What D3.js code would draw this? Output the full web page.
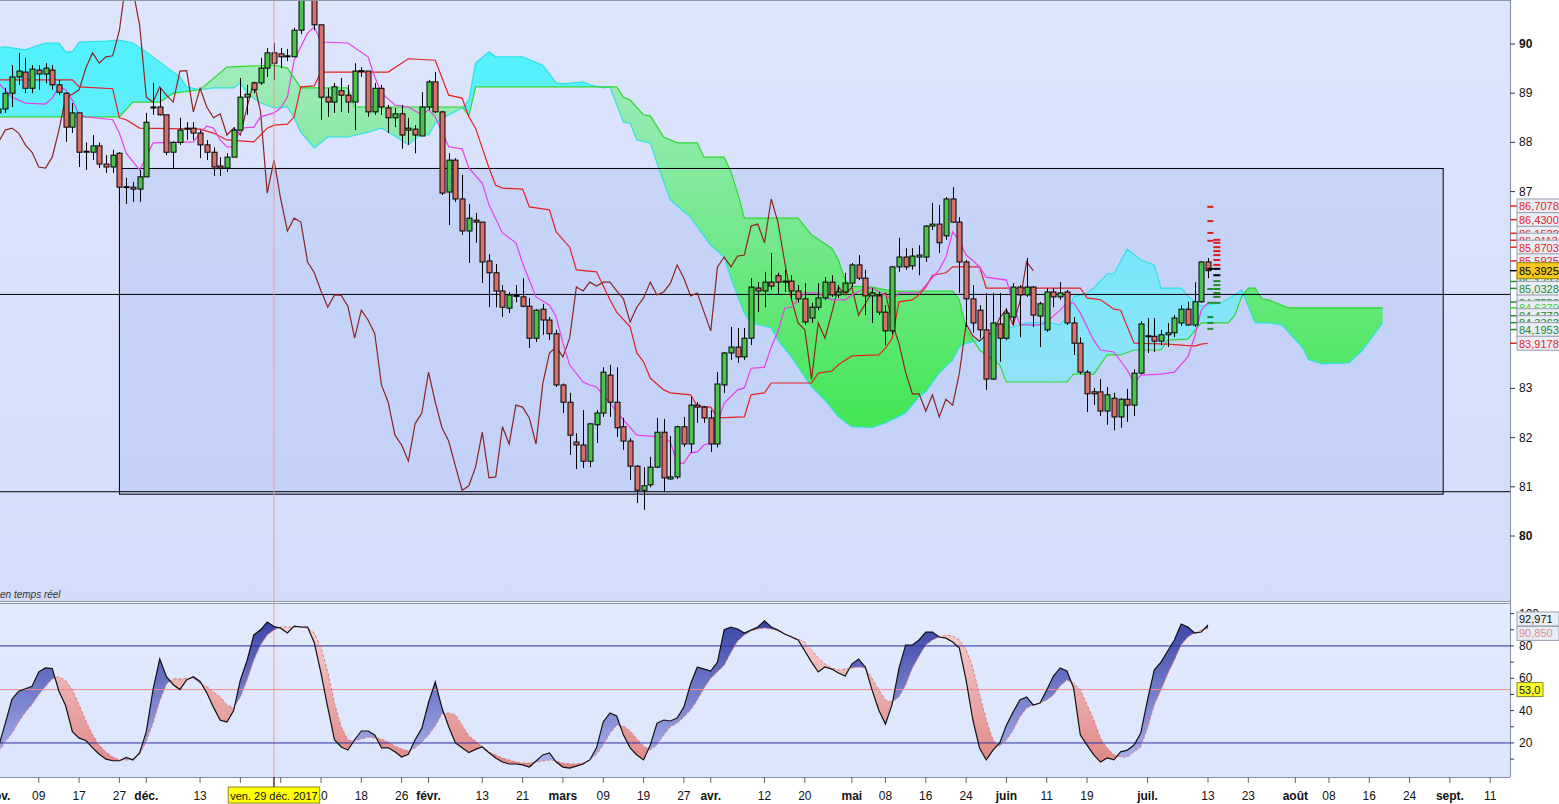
<!DOCTYPE html>
<html><head><meta charset="utf-8">
<script src="https://cdn.jsdelivr.net/npm/d3@7"></script>
<style>
html,body{margin:0;padding:0;background:#fff;overflow:hidden;}
svg{display:block;font-family:"Liberation Sans",Arial,sans-serif;}
</style></head><body>
<svg id="c" width="1559" height="804"></svg>
<script>
// ---------------- DATA ----------------
const firstDate = "2017-11-01";          // first candle (period -1)
const holidays = ["2017-12-25","2018-01-01"];
// OHLC, one entry per trading day from 2017-11-01 to 2018-07-13
const opens = [88.60,88.68,89.00,89.33,89.43,89.10,89.47,89.39,89.47,89.17,89.00,88.31,88.60,87.80,87.80,87.93,87.56,87.50,87.78,87.09,87.09,87.05,87.30,88.70,88.72,88.56,87.80,88.00,88.27,88.29,88.19,87.95,87.80,87.52,87.48,87.70,88.25,88.92,89.21,89.21,89.51,89.82,89.80,89.74,89.74,90.28,91.30,91.10,90.39,88.92,88.82,89.05,88.96,88.82,89.45,89.45,88.62,89.10,88.70,88.50,88.58,88.25,88.27,88.13,88.72,89.23,88.62,86.99,87.64,86.85,86.20,86.42,86.38,85.59,85.35,84.98,84.63,84.88,84.86,84.67,84.02,84.61,84.39,84.11,83.07,82.72,81.91,81.85,81.52,82.26,82.50,83.27,82.72,82.22,81.93,81.42,80.93,81.04,81.40,82.11,81.16,81.20,82.22,81.87,82.66,82.62,82.40,81.87,83.07,83.72,83.84,83.64,84.02,85.04,84.98,85.16,85.29,85.18,85.18,84.98,84.82,84.43,84.65,84.84,85.16,84.90,84.96,85.14,85.51,85.24,84.88,84.88,84.55,84.17,85.47,85.67,85.49,85.67,85.67,86.30,86.34,86.10,86.85,86.38,85.57,84.82,84.59,84.19,83.19,84.31,84.02,84.45,85.06,84.90,85.06,84.47,84.19,84.96,84.86,84.96,84.33,83.92,83.33,82.93,82.93,82.54,82.80,82.42,82.78,82.66,83.31,84.06,84.06,83.96,84.09,84.13,84.33,84.61,84.29,84.76,85.57];
const highs = [89.10,89.11,89.57,89.82,89.72,89.57,89.57,89.61,89.57,89.27,89.02,88.80,88.60,88.00,88.15,88.00,87.74,87.85,87.80,87.28,87.20,87.44,88.60,89.21,89.10,88.56,88.02,88.50,88.41,88.41,88.25,88.05,87.90,87.70,87.78,88.31,89.31,89.17,89.23,89.72,89.92,90.02,89.92,89.90,90.33,91.40,91.50,91.20,90.39,89.10,89.21,89.31,89.17,89.61,89.53,89.45,89.21,89.17,88.76,88.70,88.76,88.50,88.35,89.02,89.27,89.43,88.64,87.78,87.68,87.34,86.75,86.57,86.38,85.73,85.53,85.10,84.96,85.10,85.24,84.84,84.61,84.72,84.45,84.19,83.10,82.91,82.09,82.56,82.30,82.56,83.43,83.48,83.43,82.40,81.99,81.44,81.40,81.61,82.40,82.38,82.03,82.24,82.42,82.83,82.72,82.64,82.56,83.33,83.74,84.25,84.23,84.23,85.24,85.16,85.37,85.75,85.35,85.41,85.30,85.10,85.14,84.74,85.14,85.26,85.30,85.10,85.35,85.55,85.71,85.41,85.04,84.96,84.69,85.49,86.06,85.85,85.85,85.91,86.32,86.77,86.73,86.89,87.09,86.48,85.61,85.10,84.69,84.94,84.94,84.94,84.63,85.14,85.10,85.65,85.08,84.76,85.04,85.04,85.16,85.00,84.45,84.04,83.37,83.01,83.19,83.03,82.91,82.80,82.99,83.39,84.37,84.43,84.43,84.19,84.33,84.49,84.69,84.76,85.16,85.59,85.65];
const lows = [88.50,88.60,88.72,89.17,89.00,89.00,89.07,89.20,89.07,88.96,88.01,88.19,87.50,87.44,87.64,87.48,87.38,87.38,86.77,86.75,86.79,86.79,87.30,88.56,88.55,87.74,87.48,87.95,88.05,88.05,87.68,87.64,87.32,87.32,87.40,87.70,88.25,88.56,89.00,89.17,89.33,89.27,89.51,89.65,89.74,90.20,91.00,90.28,88.46,88.52,88.60,88.62,88.60,88.25,89.33,88.52,88.56,88.56,88.19,88.31,87.87,87.95,87.78,88.13,88.66,88.60,86.93,86.32,86.79,86.12,85.55,85.96,85.14,84.65,84.65,84.45,84.53,84.75,84.65,83.82,83.94,84.09,83.98,83.03,82.50,81.65,81.36,81.38,81.40,81.89,82.42,82.42,82.01,81.75,81.14,80.67,80.53,80.99,81.38,80.89,81.14,81.16,81.81,81.69,82.30,82.30,81.71,81.80,82.91,83.58,83.52,83.58,83.88,84.55,84.65,85.00,84.90,84.96,84.80,84.74,84.29,84.33,84.59,84.80,84.86,84.84,84.94,85.06,85.20,84.49,84.33,84.49,83.88,84.10,85.37,85.41,85.41,85.30,85.57,86.22,85.75,86.02,86.36,84.94,84.25,84.13,84.02,82.97,83.17,83.54,83.98,84.29,84.04,84.86,84.25,83.84,84.15,84.65,84.80,84.29,83.68,83.29,82.52,82.66,82.44,82.26,82.15,82.20,82.32,82.44,83.29,83.72,83.74,83.88,83.84,84.04,84.27,84.27,84.25,84.74,85.24];
const closes = [88.68,89.00,89.33,89.45,89.10,89.49,89.39,89.51,89.17,89.02,88.31,88.60,87.80,87.82,87.93,87.56,87.50,87.74,87.09,87.10,87.05,87.30,88.41,88.72,88.56,87.80,88.00,88.25,88.29,88.19,87.95,87.80,87.50,87.48,87.70,88.25,88.92,88.98,89.07,89.51,89.82,89.61,89.74,89.76,90.28,91.30,91.10,90.39,88.92,88.82,89.13,88.96,88.82,89.45,89.46,88.62,89.10,88.72,88.50,88.58,88.15,88.29,88.15,88.72,89.23,88.62,86.97,87.64,86.85,86.20,86.46,86.38,85.57,85.35,84.98,84.65,84.90,84.89,84.67,84.02,84.59,84.39,84.11,83.07,82.72,82.05,81.85,81.52,82.28,82.50,83.33,82.72,82.20,81.93,81.42,80.93,81.02,81.40,82.11,81.18,81.20,82.22,81.87,82.66,82.62,82.40,81.87,83.09,83.72,83.84,83.64,84.02,85.06,84.98,85.16,85.08,85.16,85.16,84.98,84.82,84.35,84.65,84.84,85.16,84.90,84.96,85.14,85.51,85.24,84.88,84.94,84.55,84.17,85.47,85.67,85.47,85.69,85.71,86.30,86.34,85.96,86.85,86.38,85.57,84.82,84.33,84.19,83.19,84.33,84.02,84.53,85.06,84.90,85.06,84.49,84.72,84.96,84.86,84.94,84.33,83.92,83.33,82.89,82.89,82.54,82.87,82.42,82.78,82.66,83.31,84.31,84.07,83.96,84.09,84.13,84.43,84.61,84.29,84.76,85.57,85.3925];
// Stochastic %K and %D, same days
const stochK = [17.5,32,47,52,53.5,55,64,66.4,66,52,43,27,23,21.5,17,13,10,9,9,11,9.5,13.8,27,53,72,61,56,53,59,61,58,51,42,34,33,40,59,71,86.8,90,94.8,92,91,88,92.3,91.7,91.7,82,63,42,22,17.5,15.6,22,27.4,27.4,25,17,17,14.5,11.3,13,22,29,45,57.7,41.6,30,20,17,14,16,17.5,14,10.7,8.2,7,7,6.4,5.1,8.8,12.6,13.8,8.2,5.1,4.5,5.7,7,9.5,17,33,38.6,36.7,25,17,12.6,9.5,18.7,32.3,34.2,33.6,35.4,42.2,56.5,67,65.7,64.5,70,90,91.7,90.5,88,89.9,91.7,95.5,91.7,89.9,87.4,85.5,83.7,76.9,70,63.9,67,65.7,63.3,61.4,68.8,71.9,67,52.8,40.4,31.7,44,66,80.5,80.6,83.7,88.6,88.6,85.5,84.8,82.4,78.7,58.9,34.2,16.9,9.5,15.6,20,31,39.1,46.6,48.5,43.5,44.7,52.8,61.4,66.4,64.5,54,24.9,18.7,12.6,8.2,10.7,9.5,14.5,15.6,18.7,26.2,46.6,65.1,70,76.9,83.7,93.6,91.7,88,88.6,92.971];
const stochD = [14.5,20.6,26,33,39,44,50,55,59.6,61,58.5,52.8,43.5,33.6,25,18.7,14.4,11.3,9.5,9.5,10,13,21,32.3,46,56.5,59.6,59.6,60,60,57,55,51.5,48.5,43.5,41.6,48.5,59,71.3,80.6,86.8,89.9,91.7,91.7,91.7,91.7,91,88,78.7,63.9,44.7,30,21.8,21.2,22.5,23.7,23,22.5,20.6,18,16.3,15,16.9,20.6,25,30.5,38,38.6,37.3,31,24.3,21.2,18,14.4,12.6,10.7,9.5,8.2,7.6,7.6,8.2,8.8,9.5,8.8,7.6,7,7,7.6,9.5,13,18.7,26,31,30.5,27.4,22.5,18,15.6,18.7,25,30,32.3,36,40.4,46.6,54,60,64,68,76,83,86.8,89.3,90.5,91.1,90.5,89.3,87.4,86,84.2,82.4,77.5,72.6,68.8,66.4,65.1,65.7,66.4,67,66.4,60,52.8,46.6,45.3,48.5,55.8,66.4,73.8,80.6,83.7,85.5,86.8,86,83.7,77.5,66.4,49.7,34.2,21.8,18,21.8,28,36,41.6,43.5,44.7,46.6,49.7,55.3,58.9,57,52.8,43.5,34.2,23,16.9,12.6,11.3,11.3,14.5,17.5,29.3,43.5,52.8,62.7,71.3,80.6,85.5,88,89.9,90.85];
// Ichimoku lines: [period (0 = 2017-11-02), value] read at their corners
const tenkan = [[-1,89.21],[1,88.92],[3,88.80],[6,88.78],[7,88.90],[8,89.13],[9,89.07],[10,88.86],[11,88.56],[12,88.52],[16,88.46],[17,88.19],[18,87.78],[20,87.44],[21,87.70],[22,87.99],[28,88.01],[29,88.19],[30,88.33],[31,88.29],[32,88.05],[33,87.91],[34,87.91],[35,88.29],[37,88.31],[38,88.52],[40,88.60],[41,88.70],[42,88.92],[43,89.67],[45,90.22],[46,90.35],[47,90.04],[51,90.02],[54,89.74],[55,89.33],[56,89.00],[58,88.76],[60,88.72],[62,88.56],[63,88.66],[64,88.52],[66,87.91],[68,87.87],[69,87.48],[71,87.17],[72,86.73],[74,86.16],[76,85.96],[77,85.55],[78,85.20],[79,84.86],[81,84.69],[82,84.45],[83,83.92],[84,83.48],[86,83.13],[87,83.07],[88,83.03],[90,82.70],[92,82.36],[94,82.05],[98,82.01],[99,81.91],[100,81.48],[101,81.48],[102,81.69],[103,81.71],[104,81.85],[105,81.89],[106,82.30],[107,82.70],[109,82.97],[110,83.01],[111,83.41],[113,83.43],[114,83.84],[115,84.15],[116,84.63],[117,84.65],[118,84.80],[119,84.94],[121,84.94],[122,84.86],[123,84.80],[125,84.80],[126,84.90],[128,85.04],[129,85.04],[131,84.90],[132,84.80],[133,84.94],[136,84.94],[139,85.41],[140,85.67],[141,86.18],[142,86.00],[143,85.71],[144,85.60],[145,85.47],[146,85.26],[149,85.20],[151,84.29],[154,84.29],[155,84.35],[157,84.59],[158,84.74],[159,84.74],[160,84.53],[162,83.98],[163,83.78],[165,83.74],[167,83.37],[168,83.11],[169,83.27],[172,83.29],[174,83.33],[176,83.64],[177,84.04],[178,84.59],[179,84.74]];
const kijun = [[-1,89.27],[10,89.27],[11,89.13],[16,89.09],[17,88.50],[18,88.46],[20,88.29],[29,88.27],[31,88.19],[33,88.05],[37,88.01],[39,88.29],[40,88.35],[42,88.37],[43,88.52],[44,89.13],[46,89.15],[47,89.43],[57,89.43],[59,89.61],[60,89.70],[64,89.67],[66,88.96],[68,88.90],[69,88.52],[70,88.29],[72,87.48],[73,87.13],[74,87.07],[77,87.05],[78,86.69],[81,86.63],[82,86.18],[84,85.87],[85,85.41],[88,85.37],[90,84.80],[91,84.55],[93,84.25],[94,83.72],[95,83.54],[96,83.21],[98,82.97],[99,82.91],[102,82.87],[103,82.64],[105,82.62],[106,82.40],[110,82.42],[111,82.87],[113,82.91],[114,83.11],[120,83.11],[121,83.31],[123,83.35],[124,83.48],[126,83.66],[130,83.68],[131,83.82],[132,84.02],[133,84.76],[135,84.80],[136,84.90],[137,85.06],[138,85.30],[140,85.35],[141,85.47],[145,85.47],[146,85.04],[160,85.04],[161,84.84],[163,84.80],[165,84.61],[166,84.59],[168,83.92],[173,83.90],[177,83.86],[178,83.90],[179,83.9178]];
const senkouA = [[-1,88.52],[17,88.52],[19,88.82],[23,88.82],[25,89.00],[29,89.07],[33,89.53],[40,89.57],[42,89.51],[44,89.11],[51,89.11],[52,88.72],[68,88.72],[69,88.54],[70,89.13],[91,89.13],[92,88.92],[93,88.86],[95,88.56],[96,88.54],[98,88.11],[100,87.99],[103,87.99],[104,87.70],[107,87.70],[108,87.40],[109,86.97],[110,86.46],[118,86.46],[120,86.12],[123,85.85],[124,85.61],[125,85.20],[126,85.08],[129,85.06],[132,84.98],[141,84.98],[142,84.80],[143,84.22],[145,83.78],[148,83.48],[149,83.13],[158,83.13],[159,83.29],[162,83.29],[164,83.68],[166,83.68],[168,83.78],[172,83.78],[173,83.98],[176,84.00],[178,84.33],[182,84.33],[183,84.49],[184,84.86],[185,85.04],[186,85.04],[187,84.82],[188,84.80],[190,84.69],[191,84.6379],[205,84.6379]];
const senkouB = [[-1,89.92],[0,89.94],[3,89.88],[5,89.98],[6,90.02],[8,90.02],[9,89.84],[10,89.84],[11,90.04],[15,90.06],[17,90.08],[19,90.02],[21,89.84],[24,89.53],[26,89.33],[27,89.13],[29,89.07],[31,89.11],[34,89.11],[35,89.21],[36,89.00],[38,88.80],[40,88.70],[42,88.72],[43,88.50],[44,88.21],[46,87.89],[48,88.11],[51,88.11],[54,88.21],[56,88.29],[58,88.13],[60,87.95],[62,88.19],[63,88.15],[64,88.39],[66,88.56],[68,88.70],[69,88.86],[70,89.61],[72,89.84],[73,89.74],[77,89.74],[80,89.57],[82,89.21],[83,89.19],[86,89.23],[87,89.17],[89,89.11],[90,89.13],[92,88.41],[93,88.39],[94,88.05],[96,87.99],[97,87.58],[99,86.83],[102,86.48],[105,85.91],[107,85.67],[108,85.24],[110,84.53],[111,84.33],[114,84.23],[115,83.98],[117,83.64],[120,83.03],[122,82.76],[124,82.42],[126,82.22],[127,82.22],[129,82.20],[131,82.30],[134,82.50],[136,82.83],[137,82.93],[139,83.31],[141,83.58],[142,83.84],[143,83.92],[145,83.98],[147,84.15],[150,84.25],[152,84.33],[155,84.35],[157,84.29],[158,84.45],[159,84.86],[161,84.94],[162,85.04],[164,85.33],[165,85.33],[167,85.83],[169,85.61],[171,85.51],[172,85.04],[175,85.04],[176,84.88],[178,84.67],[181,84.74],[183,84.90],[184,85.00],[186,84.33],[188,84.33],[190,84.29],[193,83.84],[194,83.58],[196,83.50],[200,83.52],[202,83.78],[204,84.15],[205,84.3362]];
// drawn objects
const hLines = [84.91, 80.90];
const boxPeriods = [17, 214], boxPrices = [80.85, 87.47];
const crossDate = "2017-12-29", crossLabel = "ven. 29 déc. 2017";
// axes
const priceTicks = [80,81,82,83,87,88,89,90];
const priceBold = [80,90];
const stochTicks = [20,40,60,80,100];
const stochLevels = [80,20], stochMid = 53;
// tick dates; labels hidden under the date marker are left empty
const xTickDates = ["2017-11-01","2017-11-09","2017-11-17","2017-11-27","2017-12-01","2017-12-13","2017-12-21","2018-01-02","2018-01-10","2018-01-18","2018-01-26","2018-02-01","2018-02-13","2018-02-21","2018-03-01","2018-03-09","2018-03-19","2018-03-27","2018-04-02","2018-04-12","2018-04-20","2018-05-01","2018-05-08","2018-05-16","2018-05-24","2018-06-01","2018-06-11","2018-06-19","2018-07-02","2018-07-13","2018-07-23","2018-08-01","2018-08-08","2018-08-16","2018-08-24","2018-09-03","2018-09-11"];
const xTickLabels = ["nov.","09","17","27","déc.","13","","","10","18","26","févr.","13","21","mars","09","19","27","avr.","12","20","mai","08","16","24","juin","11","19","juil.","13","23","août","08","16","24","sept.","11"];
// price level labels on the right
const levelValues = [86.7078,86.4300,86.1522,86.0113,85.8703,85.5925,85.1727,85.0328,84.7558,84.6379,84.4772,84.3362,84.1953,83.9178];
const levelKinds  = ["r","r","r","r","r","r","g","g","g","lg","g","g","g","r"];
const lastPrice = 85.3925;
const dashLeft  = [[86.69,"r"],[86.40,"r"],[86.16,"r"],[86.00,"r"],[85.43,"k"],[85.02,"g"],[84.74,"g"],[84.45,"g"],[84.33,"g"],[84.21,"g"]];
const dashRight = [[86.02,"r"],[85.96,"r"],[85.87,"r"],[85.79,"r"],[85.71,"r"],[85.61,"r"],[85.51,"r"],[85.43,"k"],[85.30,"k"],[85.18,"g"],[85.10,"g"],[85.02,"g"],[84.94,"g"],[84.86,"g"],[84.74,"g"]];

// ---------------- CHART ----------------
const svg = d3.select("#c");
const plotR = 1510, mainTop = 0, mainBot = 601, stTop = 604, stBot = 777;

// trading calendar
const cal = [];
{ let d = new Date(firstDate + "T00:00:00Z"); const end = new Date("2018-09-30T00:00:00Z");
  while (d <= end) { const w = d.getUTCDay(), s = d.toISOString().slice(0,10);
    if (w !== 0 && w !== 6 && !holidays.includes(s)) cal.push(s);
    d = new Date(d.getTime() + 86400000); } }
const per = s => cal.indexOf(s) - 1;   // 2017-11-02 -> 0

const x = d3.scaleLinear().domain([0, 179]).range([5.2, 1208]);
const y = d3.scaleLinear().domain([80, 90]).range([536, 44]);
const ys = d3.scaleLinear().domain([0, 100]).range([775.3, 613.6]);

const defs = svg.append("defs");
function grad(id, y1, y2, c1, c2){
  const g = defs.append("linearGradient").attr("id", id).attr("gradientUnits","userSpaceOnUse")
    .attr("x1",0).attr("x2",0).attr("y1",y1).attr("y2",y2);
  g.append("stop").attr("offset",0).attr("stop-color",c1);
  g.append("stop").attr("offset",1).attr("stop-color",c2);
}
grad("gMain", 0, 600, "#dde5fc", "#d3ddf9");
grad("gGreen", 40, 440, "#a6ebc4", "#3fe650");
grad("gCyan", 30, 380, "#4ff2fd", "#90e2f8");
grad("gBlue", 613, 775, "#3440a4", "#b4bcf2");
grad("gPink", 613, 775, "#f6d6d6", "#de8282");
grad("gStoch", 604, 777, "#e2eafd", "#dbe5fc");

defs.append("clipPath").attr("id","clipMain").append("rect").attr("x",0).attr("y",mainTop).attr("width",plotR).attr("height",mainBot-mainTop);
defs.append("clipPath").attr("id","clipSt").append("rect").attr("x",0).attr("y",stTop).attr("width",plotR).attr("height",stBot-stTop);
defs.append("clipPath").attr("id","clipStAxis").append("rect").attr("x",plotR).attr("y",stTop+1).attr("width",60).attr("height",stBot-stTop);

// backgrounds
svg.append("rect").attr("width",1559).attr("height",804).attr("fill","#ffffff");
svg.append("rect").attr("x",0).attr("y",0).attr("width",plotR).attr("height",mainBot).attr("fill","url(#gMain)");
svg.append("rect").attr("x",0).attr("y",stTop).attr("width",plotR).attr("height",stBot-stTop).attr("fill","url(#gStoch)");

const main = svg.append("g").attr("clip-path","url(#clipMain)");

// drawn rectangle (fill)
main.append("rect").attr("x",x(boxPeriods[0])).attr("y",y(boxPrices[1]))
  .attr("width",x(boxPeriods[1])-x(boxPeriods[0])).attr("height",y(boxPrices[0])-y(boxPrices[1]))
  .attr("fill","rgba(150,175,240,0.28)");

// cloud
const lineP = d3.line().x(d=>x(d[0])).y(d=>y(d[1]));
const toTop = d3.area().x(d=>x(d[0])).y0(mainTop).y1(d=>y(d[1]));
const toBot = d3.area().x(d=>x(d[0])).y0(mainBot).y1(d=>y(d[1]));
defs.append("clipPath").attr("id","belowA").append("path").attr("d",toBot(senkouA));
defs.append("clipPath").attr("id","belowB").append("path").attr("d",toBot(senkouB));
main.append("g").attr("clip-path","url(#belowA)").append("path").attr("d",toTop(senkouB)).attr("fill","url(#gGreen)");
main.append("g").attr("clip-path","url(#belowB)").append("path").attr("d",toTop(senkouA)).attr("fill","url(#gCyan)");
main.append("path").attr("d",lineP(senkouB)).attr("fill","none").attr("stroke","#2fe0e6").attr("stroke-width",1.2);
main.append("path").attr("d",lineP(senkouA)).attr("fill","none").attr("stroke","#2ed82e").attr("stroke-width",1.2);

// drawn horizontal lines and rectangle border
hLines.forEach(v => main.append("line").attr("x1",0).attr("x2",plotR).attr("y1",y(v)).attr("y2",y(v)).attr("stroke","#000").attr("stroke-width",1));
main.append("rect").attr("x",x(boxPeriods[0])).attr("y",y(boxPrices[1]))
  .attr("width",x(boxPeriods[1])-x(boxPeriods[0])).attr("height",y(boxPrices[0])-y(boxPrices[1]))
  .attr("fill","none").attr("stroke","#000").attr("stroke-width",1);

// chikou (closes shifted 26 back)
const chikou = closes.map((c,k)=>[k-1-26, c]);
main.append("path").attr("d",lineP(chikou)).attr("fill","none").attr("stroke","#8c2424").attr("stroke-width",1.2);
main.append("path").attr("d",lineP(kijun)).attr("fill","none").attr("stroke","#e42222").attr("stroke-width",1.2);
main.append("path").attr("d",lineP(tenkan)).attr("fill","none").attr("stroke","#e83ee8").attr("stroke-width",1.2);

// crosshair (behind candles)
const cx = x(per(crossDate));
svg.append("line").attr("x1",cx).attr("x2",cx).attr("y1",0).attr("y2",790).attr("stroke","#f29a9a").attr("stroke-width",1);

// candles
const cg = main.append("g");
opens.forEach((o,k)=>{
  const p = k-1, c = closes[k], xx = Math.round(x(p))+0.5;
  cg.append("line").attr("x1",xx).attr("x2",xx).attr("y1",y(highs[k])).attr("y2",y(lows[k])).attr("stroke","#000").attr("stroke-width",1);
  const top = y(Math.max(o,c)), bot = y(Math.min(o,c));
  cg.append("rect").attr("x",xx-2.5).attr("y",top).attr("width",5).attr("height",Math.max(1,bot-top))
    .attr("fill", c>=o ? "#4cc24c" : "#d8706a").attr("stroke","#000").attr("stroke-width",1);
});

// dash markers
const dcol = {r:"#e01a1a", g:"#1e8c2c", k:"#000", lg:"#3ed03e"};
dashLeft.forEach(d=>main.append("rect").attr("x",x(178.9)).attr("y",y(d[0])-1).attr("width",6).attr("height",2).attr("fill",dcol[d[1]]));
dashRight.forEach(d=>main.append("rect").attr("x",x(179.8)).attr("y",y(d[0])-1).attr("width",7).attr("height",2).attr("fill",dcol[d[1]]));

// right axis (price)
svg.append("line").attr("x1",plotR+0.5).attr("x2",plotR+0.5).attr("y1",0).attr("y2",stBot).attr("stroke","#7f8fa3").attr("stroke-width",1);
const ax = svg.append("g").attr("font-size",12).attr("fill","#111");
priceTicks.forEach(v=>{
  ax.append("line").attr("x1",plotR).attr("x2",plotR+5).attr("y1",y(v)).attr("y2",y(v)).attr("stroke","#333");
  ax.append("text").attr("x",plotR+9).attr("y",y(v)+4).text(v).attr("font-weight",priceBold.includes(v)?"bold":"normal");
});
// level labels
const lcol = {r:"#e3262a", g:"#228a2c", lg:"#3dd23d"};
levelValues.forEach((v,k)=>{
  const yy = y(v), col = lcol[levelKinds[k]];
  ax.append("line").attr("x1",plotR).attr("x2",plotR+7).attr("y1",yy).attr("y2",yy).attr("stroke",col).attr("stroke-width",1.5);
  ax.append("rect").attr("x",plotR+7).attr("y",yy-7).attr("width",45).attr("height",14).attr("fill","#e9edf5").attr("stroke","#98a0b0");
  ax.append("text").attr("x",plotR+9).attr("y",yy+4.5).attr("font-size",11).attr("fill",col).text(v.toFixed(4).replace(".",","));
});
{ const yy = y(lastPrice);
  ax.append("line").attr("x1",plotR).attr("x2",plotR+7).attr("y1",yy).attr("y2",yy).attr("stroke","#000").attr("stroke-width",1.5);
  ax.append("rect").attr("x",plotR+7).attr("y",yy-8).attr("width",45).attr("height",16).attr("fill","#f6c81e").attr("stroke","#a08010");
  ax.append("text").attr("x",plotR+9).attr("y",yy+4.5).attr("font-size",11).attr("fill","#000").text(lastPrice.toFixed(4).replace(".",","));
}

// separator and caption
svg.append("line").attr("x1",0).attr("x2",plotR).attr("y1",601.5).attr("y2",601.5).attr("stroke","#8a9aaa");
svg.append("line").attr("x1",0).attr("x2",plotR).attr("y1",603.5).attr("y2",603.5).attr("stroke","#8a9aaa");
svg.append("line").attr("x1",0).attr("x2",plotR).attr("y1",0.5).attr("y2",0.5).attr("stroke","#8a9aaa");
svg.append("text").attr("x",0).attr("y",598).attr("font-size",10).attr("font-style","italic").attr("fill","#333").text("en temps réel");

// ---------------- STOCHASTIC ----------------
const st = svg.append("g").attr("clip-path","url(#clipSt)");
const kd = stochK.map((v,k)=>[k-1,v]), dd = stochD.map((v,k)=>[k-1,v]);
const sTop = d3.area().x(d=>x(d[0])).y0(stTop).y1(d=>ys(d[1]));
const sBot = d3.area().x(d=>x(d[0])).y0(stBot).y1(d=>ys(d[1]));
defs.append("clipPath").attr("id","belowK").append("path").attr("d",sBot(kd));
defs.append("clipPath").attr("id","belowD").append("path").attr("d",sBot(dd));
st.append("g").attr("clip-path","url(#belowK)").append("path").attr("d",sTop(dd)).attr("fill","url(#gBlue)");
st.append("g").attr("clip-path","url(#belowD)").append("path").attr("d",sTop(kd)).attr("fill","url(#gPink)");
stochLevels.forEach(v=>st.append("line").attr("x1",0).attr("x2",plotR).attr("y1",ys(v)).attr("y2",ys(v)).attr("stroke","#2a2ca6").attr("stroke-width",1));
st.append("line").attr("x1",0).attr("x2",plotR).attr("y1",ys(stochMid)).attr("y2",ys(stochMid)).attr("stroke","#f08a8a").attr("stroke-width",1);
const sl = d3.line().x(d=>x(d[0])).y(d=>ys(d[1]));
st.append("path").attr("d",sl(dd)).attr("fill","none").attr("stroke","#e07a7a").attr("stroke-width",1).attr("stroke-dasharray","3,2");
st.append("path").attr("d",sl(kd)).attr("fill","none").attr("stroke","#111").attr("stroke-width",1.2);

const sa = svg.append("g").attr("font-size",12).attr("fill","#111").attr("clip-path","url(#clipStAxis)");
d3.range(10,101,10).forEach(v=>sa.append("line").attr("x1",plotR).attr("x2",plotR+4).attr("y1",ys(v)).attr("y2",ys(v)).attr("stroke","#333"));
stochTicks.forEach(v=>sa.append("text").attr("x",plotR+9).attr("y",ys(v)+4).text(v));
const sb = svg.append("g").attr("font-size",11).attr("fill","#111");
{ const kv = stochK[stochK.length-1], dv = stochD[stochD.length-1];
  sb.append("rect").attr("x",plotR+7).attr("y",ys(kv)-13).attr("width",42).attr("height",14).attr("fill","#e9edf5").attr("stroke","#98a0b0");
  sb.append("text").attr("x",plotR+9).attr("y",ys(kv)-2).text(kv.toFixed(3).replace(".",","));
  sb.append("rect").attr("x",plotR+7).attr("y",ys(dv)-2).attr("width",42).attr("height",14).attr("fill","#e9edf5").attr("stroke","#98a0b0");
  sb.append("text").attr("x",plotR+9).attr("y",ys(dv)+9).attr("fill","#e08a8a").text(dv.toFixed(3).replace(".",","));
  sb.append("rect").attr("x",plotR+7).attr("y",ys(stochMid)-7).attr("width",26).attr("height",14).attr("fill","#ffff2a").attr("stroke","#8a8a30");
  sb.append("text").attr("x",plotR+9).attr("y",ys(stochMid)+4.5).text(stochMid.toFixed(1).replace(".",","));
}
svg.append("line").attr("x1",0).attr("x2",plotR).attr("y1",stBot+0.5).attr("y2",stBot+0.5).attr("stroke","#7f8fa3");

// ---------------- X AXIS ----------------
const xa = svg.append("g").attr("font-size",12).attr("fill","#111").attr("font-family","'Liberation Sans Narrow','Arial Narrow','Liberation Sans',sans-serif");
xTickDates.forEach((s,k)=>{
  const xx = x(per(s)), lab = xTickLabels[k], isMonth = /[a-zé]/i.test(lab);
  xa.append("line").attr("x1",xx).attr("x2",xx).attr("y1",stBot).attr("y2",stBot+6).attr("stroke","#666");
  if (lab) xa.append("text").attr("x",xx).attr("y",800).attr("text-anchor","middle").attr("font-weight",isMonth?"bold":"normal").text(lab);
});
{ const mg = svg.append("g").attr("font-family","'Liberation Sans Narrow','Arial Narrow','Liberation Sans',sans-serif");
  const r = mg.append("rect");
  const t = mg.append("text").attr("x",cx).attr("y",800).attr("font-size",11).attr("text-anchor","middle").attr("fill","#111").text(crossLabel);
  const bb = t.node().getBBox();
  r.attr("x",bb.x-2).attr("y",787).attr("width",bb.width+4).attr("height",16).attr("fill","#ffff00").attr("stroke","#8a8a20");
  mg.append("line").attr("x1",cx).attr("x2",cx).attr("y1",stBot).attr("y2",787).attr("stroke","#000");
}
</script>
</body></html>
